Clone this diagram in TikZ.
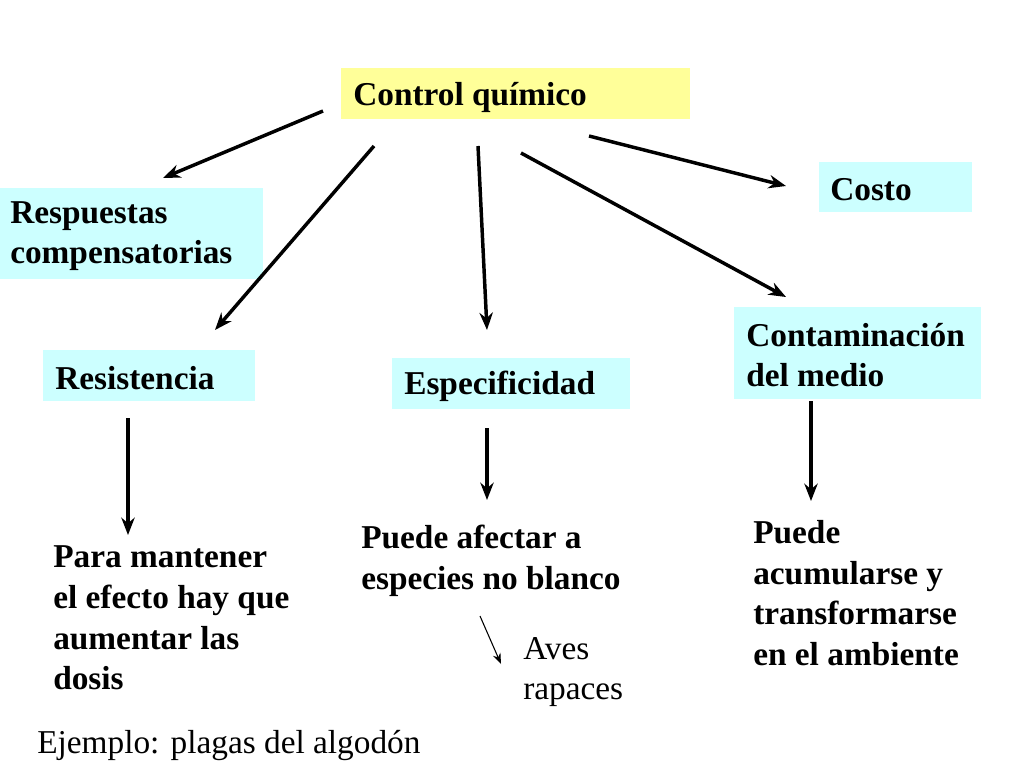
\documentclass[tikz,border=0pt]{standalone}
\usepackage{fontspec}
\setmainfont{Liberation Serif}
\usetikzlibrary{arrows.meta}
\definecolor{yel}{RGB}{255,255,153}
\definecolor{cyn}{RGB}{204,255,255}
\begin{document}
\begin{tikzpicture}[x=0.75pt,y=-0.75pt,
  box/.style={anchor=north west,inner sep=0pt,outer sep=0pt,draw=none},
  txt/.style={anchor=west,inner sep=0pt,align=left,font=\fontsize{25}{30.5}\selectfont\bfseries},
  rtxt/.style={anchor=west,inner sep=0pt,align=left,font=\fontsize{25}{30.5}\selectfont},
  arr/.style={line width=2.6pt,-{Stealth[length=13pt,width=10pt]}},
  thin/.style={line width=0.8pt,-{Stealth[length=8pt,width=6pt]}}]
\useasboundingbox (0,0) rectangle (1024,768);
\fill[yel] (341,68) rectangle (690,119);
\fill[cyn] (819,162) rectangle (972,212);
\fill[cyn] (0,188) rectangle (263,279);
\fill[cyn] (43,350) rectangle (255,401);
\fill[cyn] (392,358) rectangle (630,409);
\fill[cyn] (734,307) rectangle (981,399);
\node[txt] (cq) at (353,97) {Control químico};
\node[txt] (co) at (830,190) {Costo};
\node[txt] (rc) at (10,236) {Respuestas\\compensatorias};
\node[txt] (re) at (55,378) {Resistencia};
\node[txt] (es) at (404,386) {Especificidad};
\node[txt] (cm) at (746,355) {Contaminación\\del medio};
\node[txt] (t1) at (53,618) {Para mantener\\el efecto hay que\\aumentar las\\dosis};
\node[txt] (t2) at (361,561) {Puede afectar a\\especies no blanco};
\node[txt] (t3) at (753,593) {Puede\\acumularse y\\transformarse\\en el ambiente};
\node[rtxt] (av) at (523,672) {Aves\\rapaces};
\node[rtxt] (ej) at (37,745) {Ejemplo: plagas del algodón};
\coordinate (a1) at (323,111); \coordinate (b1) at (163,178);
\coordinate (a2) at (374,146); \coordinate (b2) at (215,330);
\coordinate (a3) at (478,146); \coordinate (b3) at (487,330);
\coordinate (a4) at (521,153); \coordinate (b4) at (786,297);
\coordinate (a5) at (589,136); \coordinate (b5) at (786,186);
\coordinate (a6) at (128,418); \coordinate (b6) at (128,535);
\coordinate (a7) at (487,428); \coordinate (b7) at (487,500);
\coordinate (a8) at (811,401); \coordinate (b8) at (811,501);
\coordinate (a9) at (480,616); \coordinate (b9) at (501,664);
\foreach \i in {1,...,8} \draw[arr] (a\i) -- (b\i);
\draw[thin] (a9) -- (b9);
\end{tikzpicture}
\end{document}
